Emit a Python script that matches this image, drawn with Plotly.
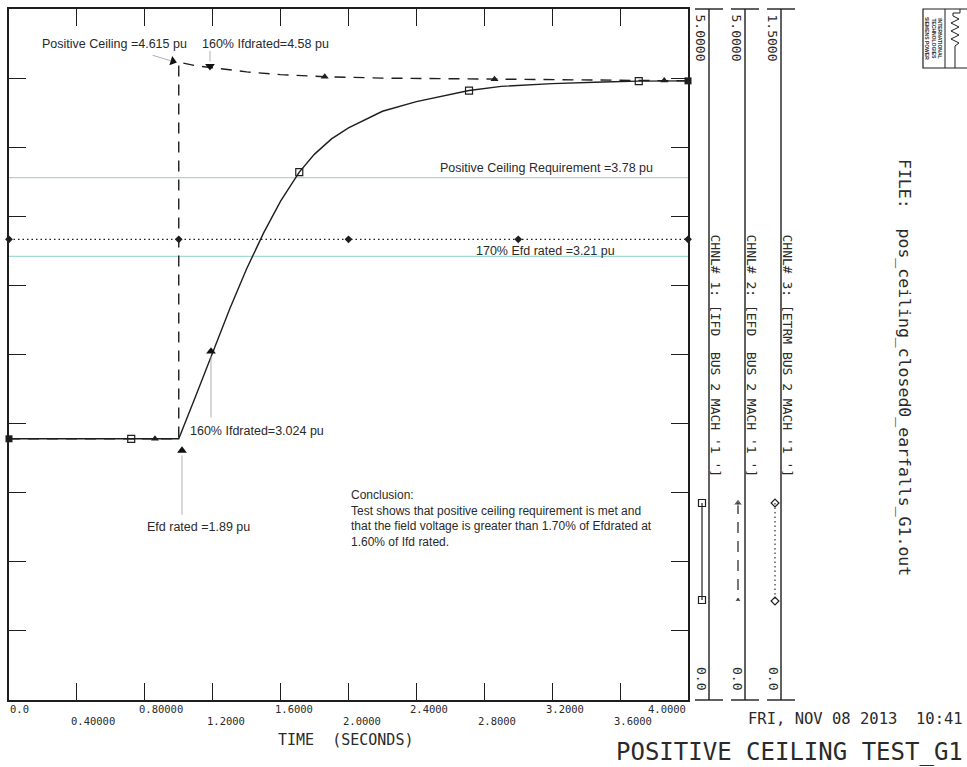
import plotly.graph_objects as go

W, H = 967, 767

# ---- channel data (time in seconds) ----
# CHNL 1: IFD, field current (solid, squares), 0-5 scale
t_ifd = [0.0, 1.0, 1.1, 1.2, 1.3, 1.4, 1.5, 1.6, 1.71, 1.8, 1.9, 2.0, 2.2, 2.4, 2.6, 2.71, 2.9, 3.2, 3.5, 3.71, 4.0]
v_ifd = [1.89, 1.89, 2.20, 2.52, 2.83, 3.12, 3.38, 3.61, 3.82, 3.95, 4.06, 4.14, 4.26, 4.33, 4.385, 4.41, 4.44, 4.46, 4.472, 4.478, 4.48]
t_ifd_mk = [0.72, 1.71, 2.71, 3.71]
v_ifd_mk = [1.89, 3.82, 4.41, 4.478]
t_ifd_end = [0.0, 4.0]
v_ifd_end = [1.89, 4.48]

# CHNL 2: EFD, field voltage (dashed, triangles), 0-5 scale
t_efd = [0.0, 1.0, 1.0, 1.1, 1.2, 1.4, 1.6, 1.86, 2.2, 2.6, 3.0, 3.5, 4.0]
v_efd = [1.89, 1.89, 4.615, 4.59, 4.575, 4.545, 4.525, 4.51, 4.50, 4.495, 4.49, 4.485, 4.48]
t_efd_mk = [0.86, 1.86, 2.86, 3.86]
v_efd_mk = [1.89, 4.51, 4.492, 4.482]

# CHNL 3: ETRM, terminal voltage (dotted, diamonds), 0-1.5 scale
t_etrm = [0.0, 1.0, 2.0, 3.0, 4.0]
v_etrm = [1.0, 1.0, 1.0, 1.0, 1.0]

# reference levels (pu)
ceiling_req = 3.78
efd_170 = 3.21

x_ticks = [0.4, 0.8, 1.2, 1.6, 2.0, 2.4, 2.8, 3.2, 3.6]
x_label_vals = [0.0, 0.4, 0.8, 1.2, 1.6, 2.0, 2.4, 2.8, 3.2, 3.6, 4.0]
x_label_text = ["0.0", "0.40000", "0.80000", "1.2000", "1.6000", "2.0000",
                "2.4000", "2.8000", "3.2000", "3.6000", "4.0000"]
y_ticks = [0.5, 1.0, 1.5, 2.0, 2.5, 3.0, 3.5, 4.0, 4.5]

channels = [
    ("5.0000", "CHNL# 1: [IFD  BUS 2 MACH '1 ']"),
    ("5.0000", "CHNL# 2: [EFD  BUS 2 MACH '1 ']"),
    ("1.5000", "CHNL# 3: [ETRM BUS 2 MACH '1 ']"),
]

INK = "#1e1e1e"
TXT = "#2a2a2a"
MONO = "DejaVu Sans Mono"
SANS = "Arial, Liberation Sans, sans-serif"


def px(x):
    return x / W


def py(y):
    return 1 - y / H


fig = go.Figure()

# channel curves
fig.add_trace(go.Scatter(x=t_ifd, y=v_ifd, mode="lines",
                         line=dict(color=INK, width=1.4), hoverinfo="skip"))
fig.add_trace(go.Scatter(x=t_ifd_mk, y=v_ifd_mk, mode="markers", cliponaxis=False,
                         marker=dict(symbol="square-open", size=7, color=INK, line=dict(width=1.2))))
fig.add_trace(go.Scatter(x=t_ifd_end, y=v_ifd_end, mode="markers", cliponaxis=False,
                         marker=dict(symbol="square", size=7, color=INK)))
fig.add_trace(go.Scatter(x=t_efd, y=v_efd, mode="lines",
                         line=dict(color=INK, width=1.4, dash="11px,8px"), hoverinfo="skip"))
fig.add_trace(go.Scatter(x=t_efd_mk, y=v_efd_mk, mode="markers", cliponaxis=False,
                         marker=dict(symbol="triangle-up", size=7, color=INK)))
fig.add_trace(go.Scatter(x=t_etrm, y=v_etrm, yaxis="y3", mode="lines+markers", cliponaxis=False,
                         line=dict(color=INK, width=1.2, dash="1.5px,3px"),
                         marker=dict(symbol="diamond", size=6, color=INK)))

# callout arrows: grey shafts ending at black arrowheads
shafts = [
    # (tip t, tip v, tail dx px, tail dy px)
    (0.955, 4.625, -20, -6),
    (1.184, 4.62, 0, -12),
    (1.19, 2.49, 0, 63),
    (1.019, 1.77, 0, 61),
]
heads_t = [0.965, 1.184, 1.19, 1.019]
heads_v = [4.622, 4.586, 2.522, 1.805]
heads_sym = ["triangle-right", "triangle-down", "triangle-up", "triangle-up"]
heads_ang = [17, 0, 0, 0]
fig.add_trace(go.Scatter(x=heads_t, y=heads_v, mode="markers", cliponaxis=False, hoverinfo="skip",
                         marker=dict(symbol=heads_sym, angle=heads_ang, size=8.5, color="#111",
                                     line=dict(width=0))))

# legend samples in the channel strips (pixel overlay axes)
strip_dx = 36
fig.add_trace(go.Scatter(x=[702, 702], y=[503, 600], xaxis="x2", yaxis="y2", mode="lines+markers",
                         line=dict(color=INK, width=1.2),
                         marker=dict(symbol="square-open", size=7, color=INK, line=dict(width=1.2))))
fig.add_trace(go.Scatter(x=[702 + strip_dx] * 2, y=[503, 600], xaxis="x2", yaxis="y2", mode="lines+markers",
                         line=dict(color=INK, width=1.2, dash="11px,8px"),
                         marker=dict(symbol="triangle-up", size=[8, 6], color=INK)))
fig.add_trace(go.Scatter(x=[702 + 2 * strip_dx + 1] * 2, y=[503, 601], xaxis="x2", yaxis="y2",
                         mode="lines+markers",
                         line=dict(color=INK, width=1.1, dash="1.5px,3px"),
                         marker=dict(symbol="diamond-open", size=6, color=INK, line=dict(width=1.2))))

shapes = []
# reference level lines
for lvl in (ceiling_req, efd_170):
    shapes.append(dict(type="line", xref="x", yref="y", x0=0, x1=4, y0=lvl, y1=lvl,
                       line=dict(color="#a6d8d6", width=1.1), layer="below"))

# channel strip axes
for k in range(3):
    xl = 709 + strip_dx * k
    shapes.append(dict(type="line", xref="paper", yref="paper", x0=px(xl), x1=px(xl),
                       y0=py(9), y1=py(700), line=dict(color=INK, width=1.4)))
    for yy in (9, 700):
        shapes.append(dict(type="line", xref="paper", yref="paper", x0=px(xl - 14), x1=px(xl + 14),
                           y0=py(yy), y1=py(yy), line=dict(color=INK, width=1.4)))

# logo box
shapes.append(dict(type="rect", xref="paper", yref="paper", x0=px(923), x1=px(975),
                   y0=py(68), y1=py(9), line=dict(color=INK, width=1.2)))
shapes.append(dict(type="line", xref="paper", yref="paper", x0=px(945), x1=px(945),
                   y0=py(68), y1=py(9), line=dict(color=INK, width=1)))
zig = [(960, 9), (960, 13), (953, 13), (953, 16), (959, 19), (951, 23), (959, 27), (951, 31),
       (959, 35), (951, 39), (959, 43), (955, 46), (955, 68)]
path = "M " + " L ".join(f"{px(a):.5f},{py(b):.5f}" for a, b in zig)
shapes.append(dict(type="path", xref="paper", yref="paper", path=path,
                   line=dict(color=INK, width=1)))

ann = []
# x tick labels, two staggered rows
for i, (v, s) in enumerate(zip(x_label_vals, x_label_text)):
    row_y = 709 if i % 2 == 0 else 721
    if i == 0:
        xa, sh = "left", -1
    elif i == len(x_label_vals) - 1:
        xa, sh = "right", 0
    else:
        xa, sh = "left", -8
    ann.append(dict(x=v, xref="x", y=py(row_y), yref="paper", text=s, showarrow=False,
                    xanchor=xa, yanchor="middle", xshift=sh,
                    font=dict(family=MONO, size=10.5, color=TXT)))
ann.append(dict(x=px(345), y=py(740), xref="paper", yref="paper", text="TIME  (SECONDS)",
                showarrow=False, xanchor="center", yanchor="middle",
                font=dict(family=MONO, size=15, color=TXT)))

# channel strip labels
for k, (top, name) in enumerate(channels):
    xl = 709 + strip_dx * k
    ann.append(dict(x=px(xl - 9), y=py(12), xref="paper", yref="paper", text=top, textangle=90,
                    showarrow=False, xanchor="center", yanchor="top",
                    font=dict(family=MONO, size=13, color=TXT)))
    ann.append(dict(x=px(xl + 6), y=py(232), xref="paper", yref="paper", text=name, textangle=90,
                    showarrow=False, xanchor="center", yanchor="top",
                    font=dict(family=MONO, size=13, color=TXT)))
    ann.append(dict(x=px(xl - 7), y=py(678), xref="paper", yref="paper", text="0.0", textangle=90,
                    showarrow=False, xanchor="center", yanchor="middle",
                    font=dict(family=MONO, size=13, color=TXT)))

ann.append(dict(x=px(905), y=py(367), xref="paper", yref="paper",
                text="FILE:  pos_ceiling_closed0_earfalls_G1.out", textangle=90,
                showarrow=False, xanchor="center", yanchor="middle",
                font=dict(family=MONO, size=16.5, color=TXT)))
ann.append(dict(x=px(934), y=py(38), xref="paper", yref="paper",
                text="<b>INTERNATIONAL<br>TECHNOLOGIES<br>SIEMENS POWER</b>", textangle=90,
                showarrow=False, xanchor="center", yanchor="middle",
                font=dict(family=SANS, size=5, color=TXT)))
ann.append(dict(x=px(965), y=py(719), xref="paper", yref="paper",
                text="FRI, NOV 08 2013  10:41", showarrow=False, xanchor="right", yanchor="middle",
                font=dict(family=MONO, size=15.5, color=TXT)))
ann.append(dict(x=px(965), y=py(752), xref="paper", yref="paper",
                text="POSITIVE CEILING TEST_G1", showarrow=False, xanchor="right", yanchor="middle",
                font=dict(family=MONO, size=24, color=TXT)))

# callout texts
lab_font = dict(family=SANS, size=12.5, color=TXT)
callouts = [
    (0.183, 4.745, "Positive Ceiling =4.615 pu"),
    (1.125, 4.745, "160% Ifdrated=4.58 pu"),
    (1.054, 1.943, "160% Ifdrated=3.024 pu"),
    (0.80, 1.255, "Efd rated =1.89 pu"),
    (2.527, 3.853, "Positive Ceiling Requirement =3.78 pu"),
    (2.739, 3.252, "170% Efd rated =3.21 pu"),
]
for xv, yv, s in callouts:
    ann.append(dict(x=xv, y=yv, xref="x", yref="y", text=s, showarrow=False,
                    xanchor="left", yanchor="middle", font=lab_font))
ann.append(dict(x=2.003, y=1.545, xref="x", yref="y", showarrow=False, xanchor="left", yanchor="top",
                align="left",
                text=("Conclusion:<br>Test shows that positive ceiling requirement is met and<br>"
                      "that the field voltage is greater than 1.70% of Efdrated at<br>1.60% of Ifd rated."),
                font=dict(family=SANS, size=12, color=TXT)))

for xv, yv, axp, ayp in shafts:
    ann.append(dict(x=xv, y=yv, xref="x", yref="y", ax=axp, ay=ayp, text="", showarrow=True,
                    arrowhead=0, arrowwidth=0.8, arrowcolor="#9a9a9a", standoff=0, startstandoff=0))

axis_common = dict(showline=True, linecolor=INK, linewidth=1.5, mirror="ticks", ticks="inside",
                   ticklen=17, tickwidth=1.3, tickcolor=INK, showticklabels=False,
                   showgrid=False, zeroline=False, fixedrange=True)

fig.update_layout(
    width=W, height=H, autosize=False,
    margin=dict(l=0, r=0, t=0, b=0),
    paper_bgcolor="white", plot_bgcolor="rgba(0,0,0,0)",
    showlegend=False,
    xaxis=dict(domain=[px(9), px(688)], range=[0, 4], tickvals=x_ticks, anchor="y", **axis_common),
    yaxis=dict(domain=[py(700), py(9)], range=[0, 5], tickvals=y_ticks, anchor="x", **axis_common),
    yaxis3=dict(overlaying="y", range=[0, 1.5], visible=False, anchor="x", fixedrange=True),
    xaxis2=dict(domain=[0, 1], range=[0, W], visible=False, anchor="y2", fixedrange=True),
    yaxis2=dict(domain=[0, 1], range=[H, 0], visible=False, anchor="x2", fixedrange=True),
    shapes=shapes,
    annotations=ann,
)

fig.write_html("out.html")
